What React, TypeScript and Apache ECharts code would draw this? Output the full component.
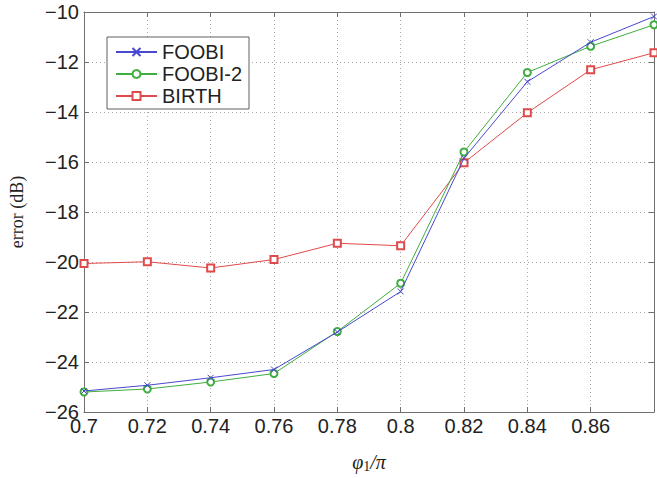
import React, { useEffect, useRef } from "react";
import * as echarts from "echarts";

const xValues = [0.7, 0.72, 0.74, 0.76, 0.78, 0.8, 0.82, 0.84, 0.86, 0.88];
const foobi = [-25.16, -24.93, -24.63, -24.3, -22.8, -21.18, -15.85, -12.79, -11.21, -10.18];
const foobi2 = [-25.2, -25.08, -24.8, -24.46, -22.78, -20.85, -15.6, -12.42, -11.37, -10.51];
const birth = [-20.06, -19.99, -20.24, -19.9, -19.25, -19.35, -16.03, -14.03, -12.31, -11.63];
const seriesNames = ["FOOBI", "FOOBI-2", "BIRTH"];

const BLUE = "#4848d0";
const GREEN = "#3fae3f";
const RED = "#e04a4a";
const AXIS = "#707070";
const GRID = "#a8a8a8";

const pairs = (ys: number[]) => xValues.map((x, i) => [x, ys[i]]);

export default function App() {
  const ref = useRef<HTMLDivElement>(null);
  useEffect(() => {
    if (!ref.current) return;
    const chart = echarts.init(ref.current, undefined, { renderer: "svg" });
    const labelFont = { fontFamily: "Liberation Sans, Arial, sans-serif", fontSize: 20, color: "#222" };
    const xFmt = (v: number) => (Math.abs(v - 0.88) < 1e-6 ? "" : String(parseFloat(v.toFixed(2))));
    const yFmt = (v: number) => (v < 0 ? "\u2212" + Math.abs(v) : String(v));
    chart.setOption({
      animation: false,
      backgroundColor: "#fff",
      grid: { left: 81, top: 12, right: 1, bottom: 60 },
      legend: {
        left: 107,
        top: 37,
        orient: "vertical",
        data: seriesNames,
        itemWidth: 41,
        itemHeight: 10,
        itemGap: 2,
        padding: [5, 7, 3, 8],
        borderColor: "#606060",
        borderWidth: 1,
        backgroundColor: "#fff",
        textStyle: { fontFamily: "Liberation Sans, Arial, sans-serif", fontSize: 20, color: "#222", lineHeight: 20 },
      },
      xAxis: [
        {
          type: "value",
          min: 0.7,
          max: 0.88,
          interval: 0.02,
          name: "{i|\u03c6}{s|1}{i|/\u03c0}",
          nameLocation: "middle",
          nameGap: 39,
          nameTextStyle: {
            rich: {
              i: { fontFamily: "Liberation Serif, DejaVu Serif, serif", fontStyle: "italic", fontSize: 20, color: "#222" },
              s: { fontFamily: "Liberation Serif, DejaVu Serif, serif", fontSize: 14, color: "#222", verticalAlign: "bottom", padding: [8, 0, 0, 0] },
            },
          },
          axisLine: { show: true, lineStyle: { color: AXIS, width: 1 } },
          axisTick: { show: true, inside: true, length: 5, lineStyle: { color: AXIS } },
          axisLabel: { ...labelFont, margin: 4, formatter: xFmt },
          splitLine: { show: true, lineStyle: { color: GRID, type: [1, 3], width: 1 } },
        },
        {
          type: "value",
          position: "top",
          min: 0.7,
          max: 0.88,
          interval: 0.02,
          axisLine: { show: true, lineStyle: { color: AXIS, width: 1 } },
          axisTick: { show: true, inside: true, length: 5, lineStyle: { color: AXIS } },
          axisLabel: { show: false },
          splitLine: { show: false },
        },
      ],
      yAxis: [
        {
          type: "value",
          min: -26,
          max: -10,
          interval: 2,
          name: "error (dB)",
          nameLocation: "middle",
          nameGap: 58,
          nameTextStyle: { fontFamily: "Liberation Serif, DejaVu Serif, serif", fontSize: 18, color: "#222" },
          axisLine: { show: true, lineStyle: { color: AXIS, width: 1 } },
          axisTick: { show: true, inside: true, length: 5, lineStyle: { color: AXIS } },
          axisLabel: { ...labelFont, margin: 5, formatter: yFmt },
          splitLine: { show: true, lineStyle: { color: GRID, type: [1, 3], width: 1 } },
        },
        {
          type: "value",
          position: "right",
          min: -26,
          max: -10,
          interval: 2,
          axisLine: { show: true, lineStyle: { color: AXIS, width: 1 } },
          axisTick: { show: true, inside: true, length: 5, lineStyle: { color: AXIS } },
          axisLabel: { show: false },
          splitLine: { show: false },
        },
      ],
      series: [
        {
          name: seriesNames[0],
          type: "line",
          data: pairs(foobi),
          symbol: "path://M0,0L10,10M10,0L0,10",
          symbolSize: 6,
          showAllSymbol: true,
          lineStyle: { color: BLUE, width: 1 },
          itemStyle: { color: "rgba(0,0,0,0)", borderColor: BLUE, borderWidth: 1 },
          z: 3,
        },
        {
          name: seriesNames[1],
          type: "line",
          data: pairs(foobi2),
          symbol: "emptyCircle",
          symbolSize: 7,
          showAllSymbol: true,
          lineStyle: { color: GREEN, width: 1 },
          itemStyle: { color: GREEN, borderColor: GREEN, borderWidth: 1 },
          z: 2,
        },
        {
          name: seriesNames[2],
          type: "line",
          data: pairs(birth),
          symbol: "emptyRect",
          symbolSize: 7,
          showAllSymbol: true,
          lineStyle: { color: RED, width: 1 },
          itemStyle: { color: RED, borderColor: RED, borderWidth: 1 },
          z: 1,
        },
      ],
    });
    return () => chart.dispose();
  }, []);
  return <div ref={ref} style={{ width: 657, height: 478, position: "absolute", left: 0, top: 0 }} />;
}
